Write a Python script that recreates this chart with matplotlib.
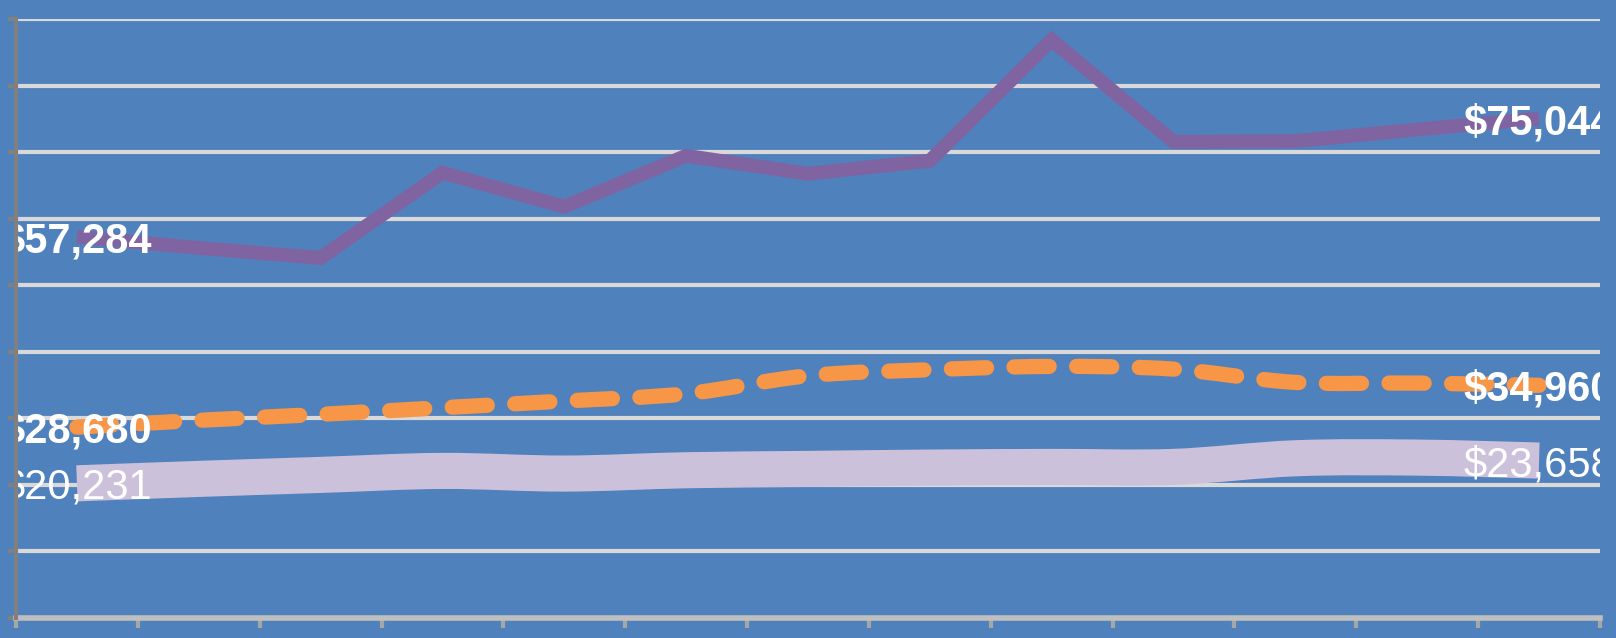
import matplotlib
matplotlib.use("Agg")
import matplotlib.pyplot as plt
from matplotlib.path import Path
from matplotlib.patches import PathPatch
import numpy as np

# ---- data (13 unlabeled periods) ----
periods = list(range(1, 14))
purple_values = [57284, 55600, 54100, 66900, 61800, 69450, 66750, 68700, 86850, 71550, 71650, 73400, 75044]
orange_values = [28680, 29700, 30600, 31600, 32600, 33700, 36400, 37300, 37800, 37400, 35400, 35300, 34960]
lavender_values = [20231, 20900, 21500, 22100, 21700, 22200, 22400, 22600, 22700, 22700, 24000, 24100, 23658]
y_ticks = list(range(0, 90001, 10000))

BG = "#4F81BD"
PURPLE = "#8064A2"
ORANGE = "#F79646"
LAVENDER = "#CCC1DA"


def smooth_path(xs, ys):
    pts = np.column_stack([xs, ys]).astype(float)
    n = len(pts)
    verts = [pts[0]]
    codes = [Path.MOVETO]
    for i in range(n - 1):
        p0 = pts[max(i - 1, 0)]
        p1 = pts[i]
        p2 = pts[i + 1]
        p3 = pts[min(i + 2, n - 1)]
        c1 = p1 + (p2 - p0) / 6.0
        c2 = p2 - (p3 - p1) / 6.0
        verts += [c1, c2, p2]
        codes += [Path.CURVE4] * 3
    return Path(verts, codes)


fig = plt.figure(figsize=(16.16, 6.38), dpi=100, facecolor=BG)
ax = fig.add_axes([16 / 1616, 1 - 618 / 638, (1600 - 16) / 1616, (618 - 19) / 638])
ax.set_facecolor(BG)

n = len(periods)
x = np.arange(n) + 0.5

ax.set_xlim(0, n)
ax.set_ylim(0, 90000)
ax.set_xticks(np.arange(n + 1))
ax.set_yticks(y_ticks)
ax.yaxis.grid(True, color="#D9D9D9", lw=3)
ax.set_axisbelow(True)

for s in ["top", "right"]:
    ax.spines[s].set_visible(False)
ax.spines["left"].set_color("#808080")
ax.spines["left"].set_linewidth(3)
ax.spines["left"].set_zorder(12)
ax.spines["bottom"].set_color("#BFBFBF")
ax.spines["bottom"].set_linewidth(4)
ax.tick_params(axis="y", direction="out", length=6, width=3, color="#808080", labelleft=False)
ax.tick_params(axis="x", direction="out", length=7, width=3, color="#A6A6A6", labelbottom=False)

# lavender thick smooth band
lav = PathPatch(smooth_path(x, lavender_values), facecolor="none", edgecolor=LAVENDER,
                lw=26, capstyle="butt", joinstyle="round", zorder=3)
ax.add_patch(lav)

# orange dashed smooth line
org = PathPatch(smooth_path(x, orange_values), facecolor="none", edgecolor=ORANGE,
                lw=11, linestyle=(0, (2.3, 1.8)), capstyle="round", joinstyle="round", zorder=4)
ax.add_patch(org)

# purple straight line
ax.plot(x, purple_values, color=PURPLE, lw=10, solid_joinstyle="miter",
        solid_capstyle="butt", zorder=5)

# end labels (clipped to the plot area, as in the original)
for vals, weight in [(purple_values, "bold"), (orange_values, "bold"), (lavender_values, "normal")]:
    for i in (0, n - 1):
        ax.text(x[i], vals[i], f"${vals[i]:,}", ha="center", va="center_baseline",
                color="white", fontsize=30, fontweight=weight,
                family="Liberation Sans", zorder=10, clip_on=True)

fig.savefig("out.png", dpi=100, facecolor=BG)
